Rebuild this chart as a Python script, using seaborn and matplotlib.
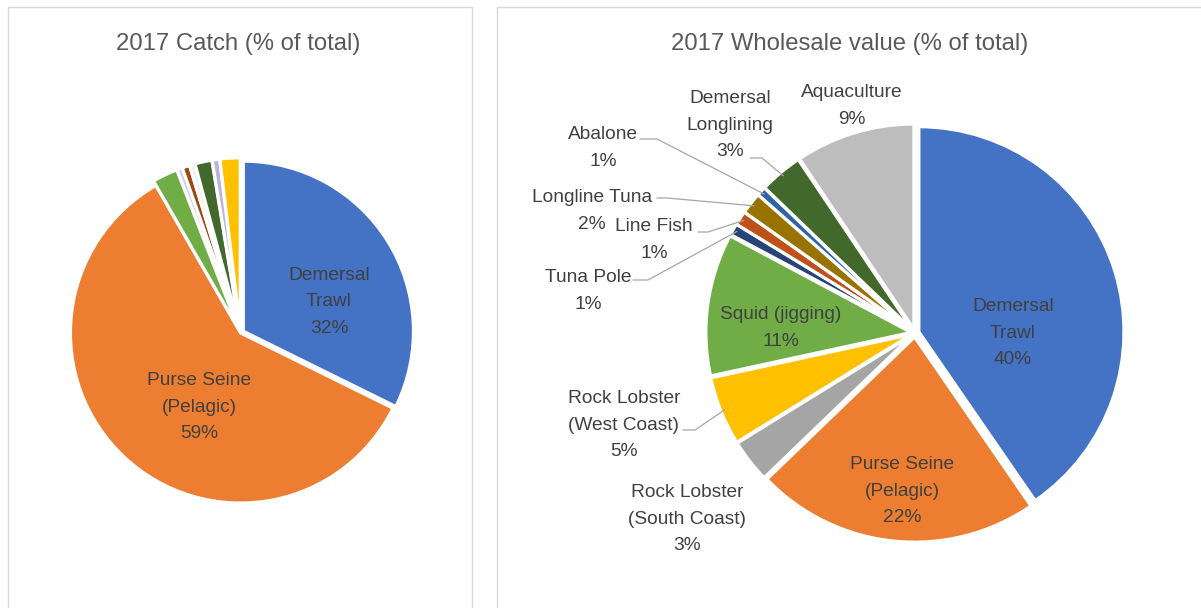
import matplotlib
matplotlib.use("Agg")
import matplotlib.pyplot as plt
import seaborn as sns
import numpy as np
from matplotlib.patches import Rectangle

# data
catch_names = ["Demersal Trawl", "Purse Seine (Pelagic)", "Squid (jigging)", "Tuna Pole",
               "Line Fish", "Longline Tuna", "Demersal Longlining", "Abalone",
               "Rock Lobster (West Coast)"]
catch_share = [32.3, 59.4, 2.4, 0.5, 0.7, 0.5, 1.6, 0.7, 1.9]

value_names = ["Demersal Trawl", "Purse Seine (Pelagic)", "Rock Lobster (South Coast)",
               "Rock Lobster (West Coast)", "Squid (jigging)", "Tuna Pole", "Line Fish",
               "Longline Tuna", "Abalone", "Demersal Longlining", "Aquaculture"]
value_share = [40.4, 22.4, 3.4, 5.4, 11.2, 0.9, 1.1, 1.7, 0.7, 3.4, 9.4]

# style
sns.set_style("white")
plt.rcParams["font.family"] = ["Liberation Sans", "DejaVu Sans"]

catch_colors = ["#4472C4", "#ED7D31", "#70AD47", "#C9CEE6", "#9E480E", "#EDEDF3",
                "#43682B", "#B9B4DA", "#FFC000"]
value_colors = ["#4472C4", "#ED7D31", "#A5A5A5", "#FFC000", "#70AD47", "#264478",
                "#C0501A", "#997300", "#2E63A8", "#43682B", "#BDBDBD"]

TXT = "#404040"
LBL = 13.8
STEP = 26.5  # px between label lines
W, H = 1201, 608
fig = plt.figure(figsize=(W / 100, H / 100), dpi=100)
fig.patch.set_facecolor("white")

# panel frames
fig.patches.append(Rectangle((8 / W, -0.05), 464 / W, 1.05 - 7 / H, transform=fig.transFigure,
                             fill=False, edgecolor="#D9D9D9", lw=1))
fig.patches.append(Rectangle((497 / W, -0.05), 720 / W, 1.05 - 7 / H, transform=fig.transFigure,
                             fill=False, edgecolor="#D9D9D9", lw=1))


def pie_axes(cx, cy, r, lim=1.15):
    return fig.add_axes([(cx - r * lim) / W, 1 - (cy + r * lim) / H, 2 * r * lim / W, 2 * r * lim / H])


def px(info, x, y):
    cx, cy, r = info
    return (x - cx) / r, (cy - y) / r


def draw_pie(ax, shares, colors, explode):
    wedges, _ = ax.pie(shares, colors=colors, startangle=90, counterclock=False,
                       explode=explode,
                       wedgeprops=dict(edgecolor="white", linewidth=2.2))
    ax.set_xlim(-1.15, 1.15)
    ax.set_ylim(-1.15, 1.15)
    ax.set_aspect("auto")
    ax.axis("off")
    return wedges


def put_label(ax, info, x, y, lines):
    n = len(lines)
    for k, s in enumerate(lines):
        ax.text(*px(info, x, y + (k - (n - 1) / 2) * STEP), s, ha="center", va="center",
                fontsize=LBL, color=TXT)


def rim_point(w, rad=0.98):
    t = np.deg2rad((w.theta1 + w.theta2) / 2)
    return w.center[0] + rad * np.cos(t), w.center[1] + rad * np.sin(t)


# ---- left pie
L = (240.5, 333, 170)
axl = pie_axes(*L)
wl = draw_pie(axl, catch_share, catch_colors, [0.02] + [0.0] + [0.03] * 7)
put_label(axl, L, 329, 302, ["Demersal", "Trawl", f"{catch_share[0]:.0f}%"])
put_label(axl, L, 199, 407, ["Purse Seine", "(Pelagic)", f"{catch_share[1]:.0f}%"])
fig.text(238 / W, 1 - 44 / H, "2017 Catch (% of total)", ha="center", va="center",
         fontsize=17.2, color="#595959")

# ---- right pie
R = (915, 333, 205)
axr = pie_axes(*R)
wr = draw_pie(axr, value_share, value_colors, [0.02] * len(value_share))

labels = ["Demersal\nTrawl", "Purse Seine\n(Pelagic)", "Rock Lobster\n(South Coast)",
          "Rock Lobster\n(West Coast)", "Squid (jigging)", "Tuna Pole", "Line Fish",
          "Longline Tuna", "Abalone", "Demersal\nLonglining", "Aquaculture"]
label_pos = [(1013, 333), (902, 491), (687, 519), (624, 425), (781, 328), (588, 291),
             (654, 240), (592, 211), (603, 148), (730, 125), (852, 106)]
# leader lines: start and elbow in pixels
leaders = {3: [(683, 430), (695, 430)], 5: [(633, 280), (648, 280)], 6: [(698, 232), (708, 232)],
           7: [(657, 198), (667, 198)], 8: [(640, 139), (657, 139)], 9: [(750, 158), (762, 158)]}

for i, (lab, (x, y)) in enumerate(zip(labels, label_pos)):
    put_label(axr, R, x, y, lab.split("\n") + [f"{value_share[i]:.0f}%"])
    if i in leaders:
        pts = [px(R, *p) for p in leaders[i]] + [rim_point(wr[i])]
        xs, ys = zip(*pts)
        axr.plot(xs, ys, color="#A6A6A6", lw=0.9, clip_on=False)

fig.text(850 / W, 1 - 44 / H, "2017 Wholesale value (% of total)", ha="center", va="center",
         fontsize=17.2, color="#595959")

fig.savefig("out.png", dpi=100, facecolor="white")
